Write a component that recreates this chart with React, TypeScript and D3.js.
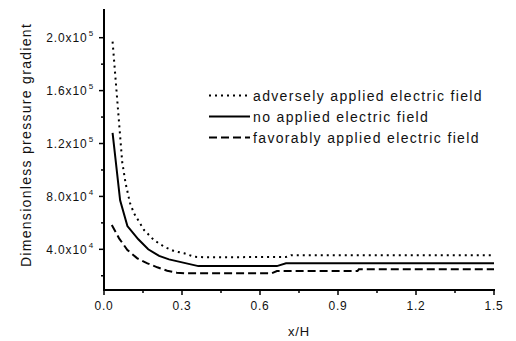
import * as d3 from 'd3'
import { useEffect, useRef } from 'react'

// adversely applied electric field (dotted)
const adverseX = [0.033, 0.07, 0.083, 0.1, 0.115, 0.154, 0.192, 0.231, 0.269, 0.308, 0.346, 0.385, 0.7, 0.72, 1.5]
const adverseY = [197000, 106000, 90000, 75000, 67400, 54600, 47000, 42000, 38700, 37000, 34400, 34000, 34200, 35600, 35600]

// no applied electric field (solid)
const noneX = [0.033, 0.062, 0.09, 0.132, 0.17, 0.212, 0.25, 0.363, 0.665, 0.7, 1.5]
const noneY = [128000, 77000, 57600, 47600, 40000, 35000, 32400, 27300, 27300, 29400, 29400]

// favorably applied electric field (dashed)
const favorX = [0.03, 0.058, 0.09, 0.128, 0.167, 0.205, 0.243, 0.28, 0.31, 0.645, 0.665, 0.975, 0.98, 1.5]
const favorY = [58400, 48300, 39500, 33200, 29400, 26400, 23800, 22300, 21900, 21900, 23600, 23600, 24900, 24900]

const xTicks = [0, 0.3, 0.6, 0.9, 1.2, 1.5]
const yTicks = [40000, 80000, 120000, 160000, 200000]
const legendLabels = ['adversely applied electric field', 'no applied electric field', 'favorably applied electric field']

const FONT = 'Liberation Sans, Arial, Helvetica, sans-serif'

export default function App() {
  const ref = useRef<SVGSVGElement>(null)

  useEffect(() => {
    const svg = d3.select(ref.current)
    svg.selectAll('*').remove()

    const x = d3.scaleLinear().domain([0, 1.5]).range([104, 494])
    const y = d3.scaleLinear().domain([10000, 220000]).range([289, 11.25])

    const g = svg.append('g').attr('font-family', FONT).attr('fill', '#111')

    // minor + major ticks
    const xMinor = d3.range(0.15, 1.5, 0.3)
    g.selectAll('.xminor')
      .data(xMinor)
      .enter()
      .append('line')
      .attr('x1', (d) => x(d))
      .attr('x2', (d) => x(d))
      .attr('y1', 290)
      .attr('y2', 293)
      .attr('stroke', '#000')
      .attr('stroke-width', 1.5)
    g.selectAll('.xmajor')
      .data(xTicks)
      .enter()
      .append('line')
      .attr('x1', (d) => x(d))
      .attr('x2', (d) => x(d))
      .attr('y1', 290)
      .attr('y2', 295)
      .attr('stroke', '#000')
      .attr('stroke-width', 1.5)

    const yMinor = [20000, 60000, 100000, 140000, 180000]
    g.selectAll('.yminor')
      .data(yMinor)
      .enter()
      .append('line')
      .attr('x1', 101)
      .attr('x2', 104)
      .attr('y1', (d) => y(d))
      .attr('y2', (d) => y(d))
      .attr('stroke', '#000')
      .attr('stroke-width', 1.5)
    g.selectAll('.ymajor')
      .data(yTicks)
      .enter()
      .append('line')
      .attr('x1', 99)
      .attr('x2', 104)
      .attr('y1', (d) => y(d))
      .attr('y2', (d) => y(d))
      .attr('stroke', '#000')
      .attr('stroke-width', 1.5)

    // axis lines
    g.append('line').attr('x1', 103).attr('x2', 495).attr('y1', 290).attr('y2', 290).attr('stroke', '#000').attr('stroke-width', 2)
    g.append('line').attr('x1', 104).attr('x2', 104).attr('y1', 9).attr('y2', 291).attr('stroke', '#000').attr('stroke-width', 2)

    // tick labels
    g.selectAll('.xlab')
      .data(xTicks)
      .enter()
      .append('text')
      .attr('x', (d) => x(d))
      .attr('y', 309.5)
      .attr('text-anchor', 'middle')
      .attr('font-size', 12)
      .attr('letter-spacing', 0.8)
      .text((d) => d.toFixed(1))

    const ylab = g
      .selectAll('.ylab')
      .data(yTicks)
      .enter()
      .append('text')
      .attr('x', 94)
      .attr('y', (d) => y(d) + 4.5)
      .attr('text-anchor', 'end')
      .attr('font-size', 12)
      .attr('letter-spacing', 0.9)
    ylab.append('tspan').text((d) => {
      const e = Math.floor(Math.log10(d))
      return (d / Math.pow(10, e)).toFixed(1) + 'x10'
    })
    ylab
      .append('tspan')
      .attr('dy', -6)
      .attr('dx', 1)
      .attr('font-size', 8)
      .text((d) => String(Math.floor(Math.log10(d))))

    // axis titles
    g.append('text')
      .attr('transform', 'translate(30.5,145) rotate(-90)')
      .attr('text-anchor', 'middle')
      .attr('font-size', 14)
      .attr('letter-spacing', 1.3)
      .text('Dimensionless pressure gradient')
    g.append('text')
      .attr('x', 299)
      .attr('y', 336)
      .attr('text-anchor', 'middle')
      .attr('font-size', 13)
      .attr('letter-spacing', 0.8)
      .text('x/H')

    // series
    const series = [
      { xs: adverseX, ys: adverseY, dash: '2,4' },
      { xs: noneX, ys: noneY, dash: null },
      { xs: favorX, ys: favorY, dash: '8,4' },
    ]
    series.forEach((s) => {
      const pts = s.xs.map((v, i) => [x(v), y(s.ys[i])] as [number, number])
      g.append('path')
        .attr('d', d3.line()(pts))
        .attr('fill', 'none')
        .attr('stroke', '#000')
        .attr('stroke-width', 2)
        .attr('stroke-dasharray', s.dash)
    })

    // legend
    const rowsY = [95.5, 116.5, 137.5]
    legendLabels.forEach((lab, i) => {
      g.append('line')
        .attr('x1', 209)
        .attr('x2', 250)
        .attr('y1', rowsY[i])
        .attr('y2', rowsY[i])
        .attr('stroke', '#000')
        .attr('stroke-width', 2)
        .attr('stroke-dasharray', series[i].dash)
      g.append('text')
        .attr('x', 253)
        .attr('y', rowsY[i] + 5)
        .attr('font-size', 14)
        .attr('letter-spacing', 1.35)
        .text(lab)
    })
  }, [])

  return (
    <svg
      ref={ref}
      width={516}
      height={341}
      style={{ position: 'absolute', left: 0, top: 0, background: '#fff' }}
    />
  )
}
